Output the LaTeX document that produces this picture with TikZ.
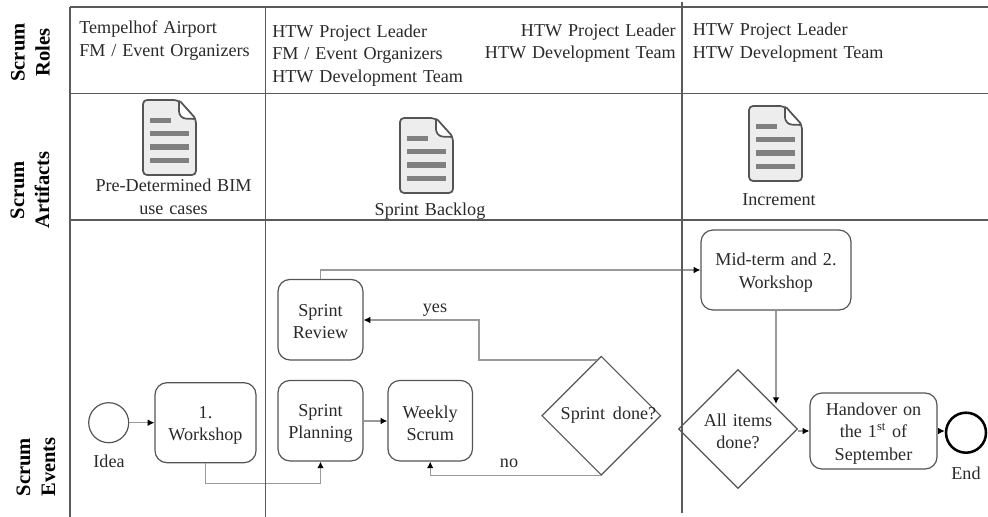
\documentclass[tikz,border=0pt]{standalone}
\usepackage{fontspec}
\setmainfont[WordSpace=1.3]{Liberation Serif}
\usetikzlibrary{shapes.geometric,arrows.meta,calc}
\definecolor{frame}{HTML}{5A5A5A}
\definecolor{conn}{HTML}{9A9A9A}
\definecolor{edge}{HTML}{555555}
\definecolor{ink}{HTML}{2A2A2A}
\newcommand{\bodyfont}{\fontsize{13.6}{16.9}\selectfont}
\newcommand{\lowerstrut}{\rule{0pt}{13pt}}
\tikzset{
  framerule/.style={draw=frame,line width=1.3pt},
  lbl/.style={inner sep=0pt,text=ink,font=\bodyfont,align=center},
  lblL/.style={lbl,align=left,anchor=west},
  lblR/.style={lbl,align=right,anchor=east},
  band/.style={inner sep=0pt,text=black,rotate=90,align=center,font=\fontsize{15.4}{18.75}\selectfont\bfseries},
  taskbox/.style={draw=edge,line width=0.9pt,rounded corners=9pt,inner sep=0pt,align=center,text=ink,font=\bodyfont},
  gate/.style={draw=edge,line width=0.9pt,diamond,aspect=1,inner sep=0pt,align=center,text=ink,font=\bodyfont},
  conline/.style={draw=conn,line width=0.9pt},
  conarrow/.style={conline,-{Latex[black,length=5pt,width=5pt]}},
}
\newcommand{\docicon}[3]{% name, x, y of top-left
  \begin{scope}[shift={(#2,#3)}]
    \draw[draw=edge,fill=black!7,line width=1.3pt,rounded corners=3pt]
      (0,0) -- (35,0) -- (53,19) -- (53,75) -- (0,75) -- cycle;
    \draw[draw=edge,fill=white,line width=1.3pt,rounded corners=2pt]
      (36,0) -- (36,14) -- (40,18.5) -- (53,19) -- cycle;
    \fill[black!50] (7,17.5) rectangle (28,23);
    \fill[black!50] (7,30.5) rectangle (46,36);
    \fill[black!50] (7,44) rectangle (46,49.5);
    \fill[black!50] (7,57.5) rectangle (46,63);
  \end{scope}
  \coordinate (#1) at (#2+26,#3+37);
}
\begin{document}
\begin{tikzpicture}[x=0.75pt,y=-0.75pt]
\useasboundingbox (0,0) rectangle (988,517);
\fill[white] (0,0) rectangle (988,517);
% frame
\coordinate (t0) at (70,7);   \coordinate (t1) at (988,7);
\coordinate (m0) at (70,93.5);\coordinate (m1) at (988,93.5);
\coordinate (b0) at (70,220); \coordinate (b1) at (988,220);
\coordinate (l1) at (70,517);
\coordinate (c0) at (265.5,7);\coordinate (c1) at (265.5,517);
\coordinate (d0) at (682,2);  \coordinate (d1) at (682,513);
% nodes
\node[gate,minimum width=89.25pt,minimum height=89.25pt] (sd) at (601.3,415.7) {};
\node[lbl] (sdtext) at (608.5,415.5) {Sprint\hspace{1.5pt} done?};
\node[gate,minimum width=89.25pt,minimum height=89.25pt] (ai) at (738,429) {\lowerstrut All items\\done?};
\node[draw=edge,line width=0.9pt,circle,minimum size=30pt,inner sep=0pt] (idea) at (108.7,422.7) {};
\node[taskbox,minimum width=75.75pt,minimum height=60pt] (ws) at (205.5,422.7) {\lowerstrut 1.\\Workshop};
\node[taskbox,minimum width=63.75pt,minimum height=60.4pt] (sp) at (320.5,420.7) {\lowerstrut Sprint\\Planning};
\node[taskbox,minimum width=63.4pt,minimum height=60.4pt] (wk) at (430.2,420.7) {\lowerstrut Weekly\\Scrum};
\node[taskbox,minimum width=63.75pt,minimum height=60.4pt] (sr) at (320.5,319.7) {\rule{0pt}{11.5pt}Sprint\\Review};
\node[taskbox,minimum width=112.5pt,minimum height=60pt] (mt) at (776,270) {\lowerstrut Mid-term and 2.\\Workshop};
\node[taskbox,minimum width=95.25pt,minimum height=57pt] (ho) at (873.5,431) {\lowerstrut Handover on\\the 1\textsuperscript{st} of\\September};
\node[draw=black,line width=1.9pt,circle,minimum size=30pt,inner sep=0pt] (end) at (966,432.7) {};
\coordinate (sdt) at (597,360);
\coordinate (aiIn) at (776,404);
\draw[conarrow] (idea.east) -- (ws.west |- idea.east);
\draw[conarrow] (ws.south) -- ++(0,20.5) -| (sp.south);
\draw[conarrow] (sp.east |- 0,421) -- (wk.west |- 0,421);
\draw[conarrow] (sd.south) -| (wk.south);
\draw[conarrow] (sdt) -- (479,360) -- (479,320) -- (sr.east |- 0,320);
\draw[conarrow] (sr.north) -- (320.5,270) -- (mt.west);
\draw[conarrow] (mt.south) -- (aiIn);
\draw[conarrow] (ai.east |- 0,431) -- (ho.west |- 0,431);
\draw[conarrow] (ho.east |- 0,431) -- (end.west |- 0,431);
% frame lines on top
\draw[framerule] (t0) -- (t1);
\draw[framerule] (m0) -- (m1);
\draw[framerule] (b0) -- (b1);
\draw[framerule] (t0) -- (l1);
\draw[framerule] (c0) -- (c1);
\draw[framerule] (d0) -- (d1);
% band labels
\node[band] (rRoles) at (30.5,52.5) {Scrum\\Roles};
\node[band] (rArt) at (30,190) {Scrum\\Artifacts};
\node[band] (rEv) at (36,467) {Scrum\\Events};
% role texts
\node[lblL] (r1) at (79,40.5) {Tempelhof Airport\\FM / Event Organizers};
\node[lblL] (r2) at (272,55.5) {HTW Project Leader\\FM / Event Organizers\\HTW Development Team};
\node[lblR] (r3) at (676,43) {HTW Project Leader\\HTW Development Team};
\node[lblL] (r4) at (692.5,42.5) {HTW Project Leader\\HTW Development Team};
% artifacts
\docicon{i1}{143}{100}
\docicon{i2}{400}{118}
\docicon{i3}{749}{106}
\node[lbl] (a1) at (173.5,197) {Pre-Determined BIM\\use cases};
\node[lbl] (a2) at (430,211) {Sprint Backlog};
\node[lbl] (a3) at (779,199.5) {Increment};
% small labels
\node[lbl] (lyes) at (435,310) {yes};
\node[lbl] (lno) at (509,463) {no};
\node[lbl] (lidea) at (109,461) {Idea};
\node[lbl] (lend) at (966,473) {End};
\end{tikzpicture}
\end{document}
